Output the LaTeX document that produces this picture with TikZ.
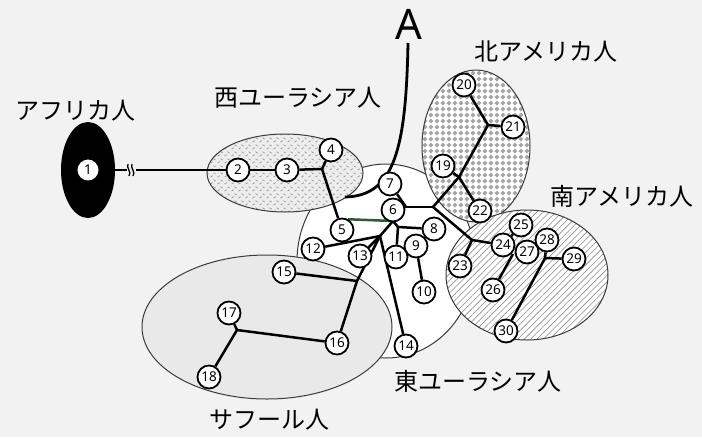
\documentclass[tikz,border=0pt]{standalone}
\usepackage{fontspec}
\setmainfont{Noto Sans}
\newfontfamily\jpfont{Noto Sans CJK JP}
\usetikzlibrary{patterns.meta}

% tread-plate texture
\pgfdeclarepattern{
  name=treadplate,
  type=uncolored,
  bottom left={\pgfpoint{0pt}{0pt}},
  top right={\pgfpoint{7pt}{7pt}},
  tile size={\pgfpoint{7pt}{7pt}},
  code={
    \pgfsetlinewidth{0.9pt}
    \pgfpathmoveto{\pgfpoint{0.6pt}{1.0pt}}
    \pgfpathlineto{\pgfpoint{3.0pt}{2.6pt}}
    \pgfpathmoveto{\pgfpoint{4.0pt}{6.0pt}}
    \pgfpathlineto{\pgfpoint{6.4pt}{4.4pt}}
    \pgfusepath{stroke}
  }
}
% diamond checker texture
\pgfdeclarepattern{
  name=diamondcheck,
  type=uncolored,
  bottom left={\pgfpoint{0pt}{0pt}},
  top right={\pgfpoint{6.4pt}{6.4pt}},
  tile size={\pgfpoint{6.4pt}{6.4pt}},
  code={
    \pgfpathmoveto{\pgfpoint{3.2pt}{0.5pt}}
    \pgfpathlineto{\pgfpoint{5.9pt}{3.2pt}}
    \pgfpathlineto{\pgfpoint{3.2pt}{5.9pt}}
    \pgfpathlineto{\pgfpoint{0.5pt}{3.2pt}}
    \pgfpathclose
    \pgfusepath{fill}
  }
}

\definecolor{pagebg}{HTML}{F2F2F2}
\definecolor{rim}{HTML}{3A3A3A}
\definecolor{greenline}{HTML}{2E5A2E}

\pgfdeclarelayer{regions}
\pgfdeclarelayer{branches}
\pgfsetlayers{regions,branches,main}

\tikzset{
  hap/.style={circle, draw=black, line width=1.8pt, fill=white,
    minimum size=23pt, inner sep=0pt, font=\fontsize{13.5}{13.5}\selectfont},
  edge/.style={line width=2.5pt, black},
  region/.style={draw=rim, line width=1pt},
  lbl/.style={font=\jpfont\fontsize{24}{24}\selectfont, inner sep=0pt}
}

\begin{document}
\begin{tikzpicture}[x=1pt,y=-1pt]
\useasboundingbox (0,0) rectangle (702,437);

\begin{pgfonlayer}{regions}
\fill[pagebg] (0,0) rectangle (702,437);
% population regions
\filldraw[region, fill=white] (386,261) ellipse [x radius=89pt, y radius=97pt];
\filldraw[region, fill=gray!17] (267,327) ellipse [x radius=125pt, y radius=72pt];
\fill[gray!14] (285,173) ellipse [x radius=78pt, y radius=39pt];
\fill[pattern=treadplate, pattern color=gray!75] (285,173) ellipse [x radius=78pt, y radius=39pt];
\draw[region] (285,173) ellipse [x radius=78pt, y radius=39pt];
\fill[white] (476,146) ellipse [x radius=54pt, y radius=76pt];
\fill[pattern=diamondcheck, pattern color=gray!70] (476,146) ellipse [x radius=54pt, y radius=76pt];
\draw[region] (476,146) ellipse [x radius=54pt, y radius=76pt];
\fill[white] (527,275) ellipse [x radius=81pt, y radius=65pt];
\fill[pattern={Lines[angle=45,distance=4.5pt,line width=0.6pt]}, pattern color=gray!90] (527,275) ellipse [x radius=81pt, y radius=65pt];
\draw[region] (527,275) ellipse [x radius=81pt, y radius=65pt];
\fill[black] (88,170) ellipse [x radius=27pt, y radius=48pt];
\end{pgfonlayer}

% region names
\node[lbl] (tAf) at (76,111) {アフリカ人};
\node[lbl] (tWE) at (298,98) {西ユーラシア人};
\node[lbl] (tNA) at (546,51) {北アメリカ人};
\node[lbl] (tSA) at (622,196) {南アメリカ人};
\node[lbl] (tEE) at (478,381) {東ユーラシア人};
\node[lbl] (tSa) at (269,420) {サフール人};

% arrow of time "A"
\node[font=\fontsize{42}{42}\selectfont, inner sep=0pt] (tA) at (409,24) {A};
\coordinate (Atop) at (408,43);
\coordinate (Aend) at (345,197);
\draw[line width=2.8pt] (Atop) .. controls (406,150) and (394,196) .. (Aend);

% haplogroup nodes
\node[hap] (n1) at (88,170) {1};
\node[hap] (n2) at (238,170) {2};
\node[hap] (n3) at (287,170) {3};
\node[hap] (n4) at (331,150) {4};
\node[hap] (n5) at (342,230) {5};
\node[hap] (n6) at (393,210) {6};
\node[hap] (n7) at (390,184) {7};
\node[hap] (n8) at (434,229) {8};
\node[hap] (n9) at (416,246) {9};
\node[hap] (n10) at (424,292) {10};
\node[hap] (n11) at (396,257) {11};
\node[hap] (n12) at (313,249) {12};
\node[hap] (n13) at (360,256) {13};
\node[hap] (n14) at (406,346) {14};
\node[hap] (n15) at (284,272) {15};
\node[hap] (n16) at (337,343) {16};
\node[hap] (n17) at (229,313) {17};
\node[hap] (n18) at (209,377) {18};
\node[hap] (n19) at (443,166) {19};
\node[hap] (n20) at (464,85) {20};
\node[hap] (n21) at (513,127) {21};
\node[hap] (n22) at (480,211) {22};
\node[hap] (n23) at (460,266) {23};
\node[hap] (n24) at (503,245) {24};
\node[hap] (n25) at (521,225) {25};
\node[hap] (n26) at (493,290) {26};
\node[hap] (n27) at (527,252) {27};
\node[hap] (n28) at (547,240) {28};
\node[hap] (n29) at (574,259) {29};
\node[hap] (n30) at (506,331) {30};

% branch points
\coordinate (j3) at (322,169);
\coordinate (hub) at (393,221);
\coordinate (j11) at (398,227);
\coordinate (j6) at (406,207);
\coordinate (jNA) at (433,207);
\coordinate (j19) at (459,177);
\coordinate (j21) at (488,125);
\coordinate (j23) at (472,240);
\coordinate (j24) at (513,254);
\coordinate (j28) at (545,258);
\coordinate (jE) at (380,236);
\coordinate (jS) at (357,281);
\coordinate (j17) at (237,330);
\coordinate (afA) at (115,170);
\coordinate (afB) at (127,170);
\coordinate (afC) at (136,170);

\begin{pgfonlayer}{branches}
% African branch with a break
\draw[line width=1.8pt] (afA) -- (afB);
\draw[line width=1.8pt] (afC) -- (n2);
\draw[line width=1.3pt] (128,164) .. controls (126,168) and (132,172) .. (129,176);
\draw[line width=1.3pt] (132,164) .. controls (130,168) and (136,172) .. (133,176);

% West Eurasia
\draw[edge] (n2) -- (n3);
\draw[edge] (n3) -- (j3);
\draw[edge] (j3) -- (n4);
\draw[edge] (j3) -- (n5);
\draw[edge, greenline] (n5.60) -- (hub);

% East Eurasia core
\draw[edge] (hub) -- (j11) -- (n8);
\draw[edge] (j11) -- (n11);
\draw[edge] (n8) -- (n9);
\draw[edge] (n9) -- (n10);
\draw[edge] (hub) -- (jE);
\draw[edge] (jE) -- (n12);
\draw[edge] (jE) -- (n13);
\draw[edge] (jE) -- (n14);
\draw[edge] (jE) -- (jS);
\draw[edge] (jS) -- (n15);
\draw[edge] (jS) -- (n16);

% Sahul
\draw[edge] (n16) -- (j17);
\draw[edge] (j17) -- (n17);
\draw[edge] (j17) -- (n18);

% towards the Americas
\draw[edge] (n7) -- (j6);
\draw[edge] (n6) -- (j6);
\draw[edge] (j6) -- (jNA);
\draw[edge] (jNA) -- (j19);
\draw[edge] (j19) -- (n19);
\draw[edge] (j19) -- (n22);
\draw[edge] (j19) -- (j21);
\draw[edge] (j21) -- (n20);
\draw[edge] (j21) -- (n21);
\draw[edge] (jNA) -- (j23);
\draw[edge] (j23) -- (n23);
\draw[edge] (j23) -- (n24);
\draw[edge] (n24) -- (n25);
\draw[edge] (j24) -- (n26);
\draw[edge] (j28) -- (n28);
\draw[edge] (j28) -- (n29);
\draw[edge] (j28) -- (n30);
\end{pgfonlayer}
\end{tikzpicture}
\end{document}
